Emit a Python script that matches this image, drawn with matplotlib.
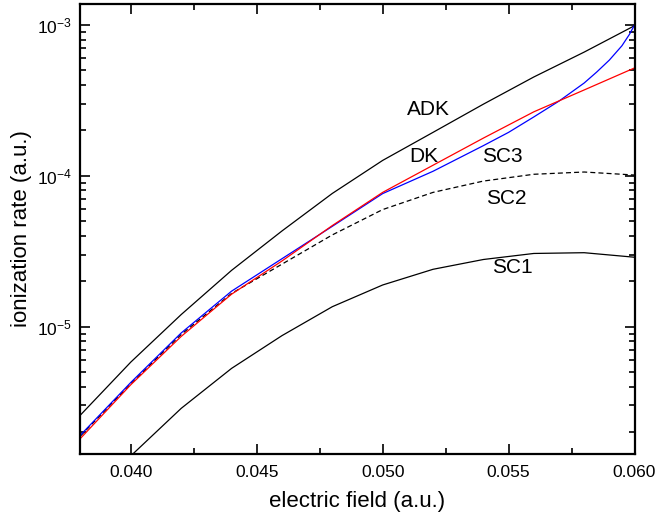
import numpy as np
import matplotlib
matplotlib.use("Agg")
import matplotlib.pyplot as plt
from matplotlib.ticker import LogLocator, MultipleLocator, NullFormatter

plt.rcParams['font.family'] = ['Liberation Sans', 'DejaVu Sans']
plt.rcParams['mathtext.fontset'] = 'custom'
plt.rcParams['mathtext.rm'] = 'Liberation Sans'
plt.rcParams['mathtext.it'] = 'Liberation Sans:italic'
plt.rcParams['mathtext.bf'] = 'Liberation Sans:bold'
plt.rcParams['axes.unicode_minus'] = False

# ---- data (log10 of ionization rate) ----
field = [0.038, 0.040, 0.042, 0.044, 0.046, 0.048, 0.050, 0.052, 0.054, 0.056, 0.058, 0.060]

adk_log = [-5.586, -5.235, -4.920, -4.627, -4.366, -4.117, -3.898, -3.712, -3.525, -3.345, -3.180, -3.005]
dk_log  = [-5.741, -5.385, -5.065, -4.785, -4.565, -4.330, -4.110, -3.930, -3.750, -3.576, -3.431, -3.285]
sc2_log = [-5.725, -5.378, -5.052, -4.780, -4.586, -4.392, -4.224, -4.110, -4.035, -3.990, -3.975, -3.995]
sc1_log = [-6.160, -5.857, -5.542, -5.277, -5.060, -4.868, -4.724, -4.620, -4.555, -4.515, -4.510, -4.540]

sc3_field = [0.038, 0.040, 0.042, 0.044, 0.046, 0.048, 0.050, 0.052, 0.054, 0.055,
             0.056, 0.057, 0.058, 0.0585, 0.059, 0.0595, 0.0598, 0.060]
sc3_log   = [-5.719, -5.370, -5.042, -4.765, -4.550, -4.335, -4.118, -3.970, -3.800, -3.712,
             -3.610, -3.505, -3.385, -3.312, -3.233, -3.138, -3.062, -3.000]

labels = ["ADK", "DK", "SC3", "SC2", "SC1"]
label_x = [0.05182, 0.05162, 0.05476, 0.05491, 0.05513]
label_y = [2.77e-4, 1.35e-4, 1.35e-4, 7.1e-5, 2.45e-5]

x_ticks = [0.040, 0.045, 0.050, 0.055, 0.060]
x_ticklabels = ["0.040", "0.045", "0.050", "0.055", "0.060"]

adk = 10 ** np.array(adk_log)
dk = 10 ** np.array(dk_log)
sc2 = 10 ** np.array(sc2_log)
sc1 = 10 ** np.array(sc1_log)
sc3 = 10 ** np.array(sc3_log)

fig = plt.figure(figsize=(6.58, 5.21), dpi=100)
ax = fig.add_axes([0.1223, 0.1286, 0.8420, 0.8637])

ax.plot(field, adk, color='black', lw=0.9)
ax.plot(field, sc1, color='black', lw=0.9)
ax.plot(field, sc2, color='black', lw=0.9, linestyle=(0, (4, 2.5)))
ax.plot(sc3_field, sc3, color='#0000ff', lw=0.9)
ax.plot(field, dk, color='#ff0000', lw=0.9)

ax.set_yscale('log')
ax.set_xlim(0.038, 0.060)
ax.set_ylim(1.43e-6, 1.377e-3)

ax.set_xticks(x_ticks)
ax.set_xticklabels(x_ticklabels)
ax.xaxis.set_minor_locator(MultipleLocator(0.0025))
ax.yaxis.set_major_locator(LogLocator(base=10, numticks=10))
ax.yaxis.set_minor_locator(LogLocator(base=10, subs=np.arange(2, 10), numticks=20))
ax.yaxis.set_minor_formatter(NullFormatter())

ax.tick_params(which='both', direction='in', top=True, right=True, width=1.2, labelsize=12.5)
ax.tick_params(which='major', length=7, pad=6)
ax.tick_params(which='minor', length=4)
ax.tick_params(axis='x', which='major', pad=8)
for s in ax.spines.values():
    s.set_linewidth(1.6)

ax.set_xlabel("electric field (a.u.)", fontsize=16, labelpad=8)
ax.set_ylabel("ionization rate (a.u.)", fontsize=16, labelpad=4)

for t, xx, yy in zip(labels, label_x, label_y):
    ax.text(xx, yy, t, fontsize=15, ha='center', va='center')

fig.savefig("out.png", dpi=100)
